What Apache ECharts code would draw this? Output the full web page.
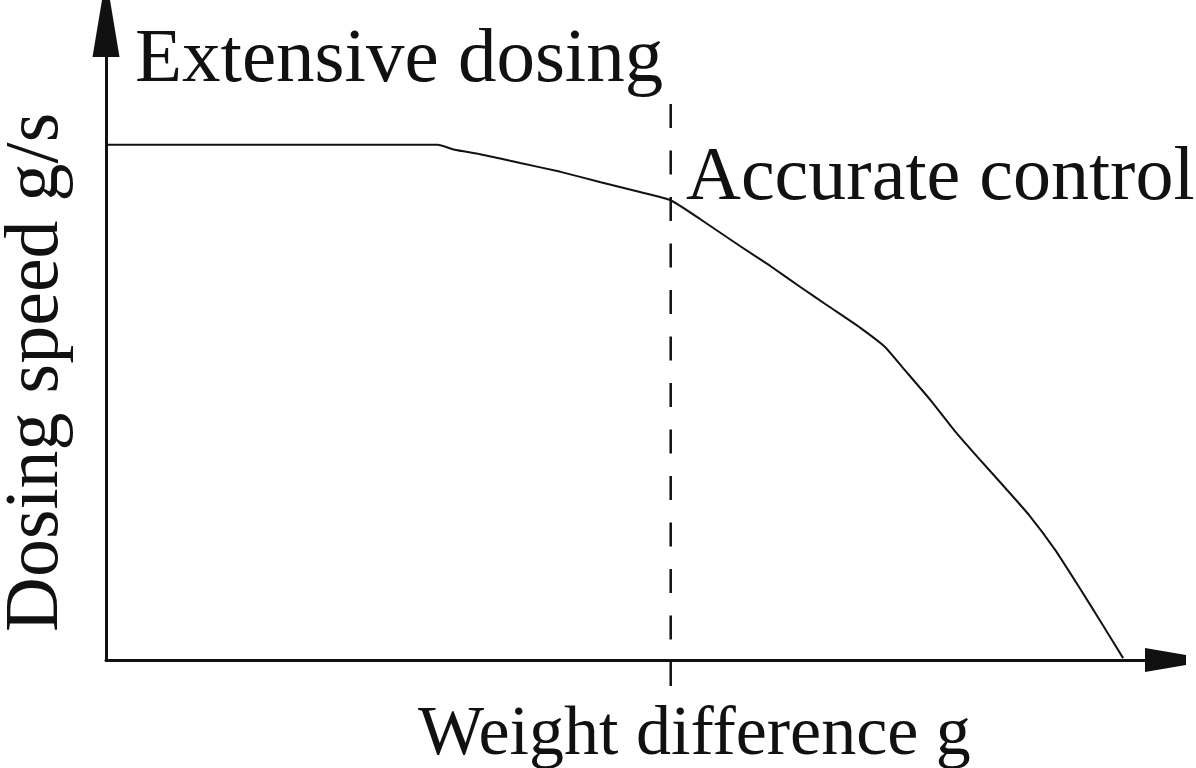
<!DOCTYPE html>
<html>
<head>
<meta charset="utf-8">
<style>
  html, body { margin: 0; padding: 0; background: #ffffff; }
  #chart { width: 1196px; height: 768px; }
</style>
<script src="https://cdn.jsdelivr.net/npm/echarts/dist/echarts.min.js"></script>
</head>
<body>
<div id="chart"></div>
<script>
// Weight difference (arbitrary units, 0..100) and dosing speed (arbitrary units, 0..100)
var weightDiff = [0, 31.3, 32.9, 35.3, 39.1, 42.9, 46.6, 50.4, 53.3, 56.1, 59.8, 62.7, 65.5, 68.3, 71.2, 73.5, 75.4, 77.8, 80.1, 82.5, 84.9, 87.2, 89.6, 91.9, 93.8, 96.0];
var dosingSpeed = [81.6, 81.6, 80.8, 80.1, 78.7, 77.3, 75.7, 74.1, 72.8, 69.8, 65.6, 62.4, 59.1, 55.9, 52.6, 49.6, 45.9, 41.2, 36.3, 31.7, 27.2, 22.8, 17.4, 11.4, 6.3, 0.3];
// Boundary between extensive dosing and accurate control
var switchPoint = 53.3;
var axisRange = [0, 100];

var labelTopLeft = 'Extensive dosing';
var labelRight = 'Accurate control';
var xTitle = 'Weight difference g';
var yTitle = 'Dosing speed g/s';

var ink = '#111111';
var serif = '"Liberation Serif", "Times New Roman", serif';

var curve = weightDiff.map(function (w, i) { return [w, dosingSpeed[i]]; });
var boundary = [[switchPoint, 1], [switchPoint, 0]];

var chart = echarts.init(document.getElementById('chart'), null, { renderer: 'canvas' });
var hiddenAxis = { show: false };
var yArrow = 'path://M9.5,0 L17.5,0 L27,57 L0,57 Z';
var xArrow = 'path://M7,0 L17,0 L24,41 L0,41 Z';

chart.setOption({
  animation: false,
  backgroundColor: '#ffffff',
  grid: [
    { left: 106, width: 1059.5, top: 28.5, bottom: 108, containLabel: false },
    { left: 106, width: 1059.5, top: 104, bottom: 71, containLabel: false }
  ],
  xAxis: [
    {
      type: 'value', gridIndex: 0, min: axisRange[0], max: axisRange[1],
      axisLine: { show: true, lineStyle: { color: ink, width: 3 }, symbol: ['none', xArrow], symbolSize: [24, 41] },
      axisTick: { show: false }, axisLabel: { show: false }, splitLine: { show: false }
    },
    { type: 'value', gridIndex: 1, min: axisRange[0], max: axisRange[1], axisLine: hiddenAxis, axisTick: hiddenAxis, axisLabel: hiddenAxis, splitLine: hiddenAxis }
  ],
  yAxis: [
    {
      type: 'value', gridIndex: 0, min: axisRange[0], max: axisRange[1],
      axisLine: { show: true, lineStyle: { color: ink, width: 3 }, symbol: ['none', yArrow], symbolSize: [27, 57] },
      axisTick: { show: false }, axisLabel: { show: false }, splitLine: { show: false }
    },
    { type: 'value', gridIndex: 1, min: 0, max: 1, axisLine: hiddenAxis, axisTick: hiddenAxis, axisLabel: hiddenAxis, splitLine: hiddenAxis }
  ],
  series: [
    {
      type: 'line', xAxisIndex: 0, yAxisIndex: 0, data: curve,
      symbol: 'none', smooth: 0.15, clip: false,
      lineStyle: { color: ink, width: 2 }
    },
    {
      type: 'line', xAxisIndex: 1, yAxisIndex: 1, data: boundary,
      symbol: 'none', clip: false,
      lineStyle: { color: ink, width: 2.5, type: [24, 22.5] }
    }
  ],
  graphic: [
    { type: 'text', x: 135, y: 61, style: { text: labelTopLeft, font: '77px ' + serif, fill: ink, align: 'left', verticalAlign: 'middle' } },
    { type: 'text', x: 686, y: 179, style: { text: labelRight, font: '76px ' + serif, fill: ink, align: 'left', verticalAlign: 'middle' } },
    { type: 'text', x: 418, y: 736, style: { text: xTitle, font: '70px ' + serif, fill: ink, align: 'left', verticalAlign: 'middle' } },
    { type: 'text', x: 37, y: 632, rotation: Math.PI / 2, style: { text: yTitle, font: '76px ' + serif, fill: ink, align: 'left', verticalAlign: 'middle' } }
  ]
});
</script>
</body>
</html>
